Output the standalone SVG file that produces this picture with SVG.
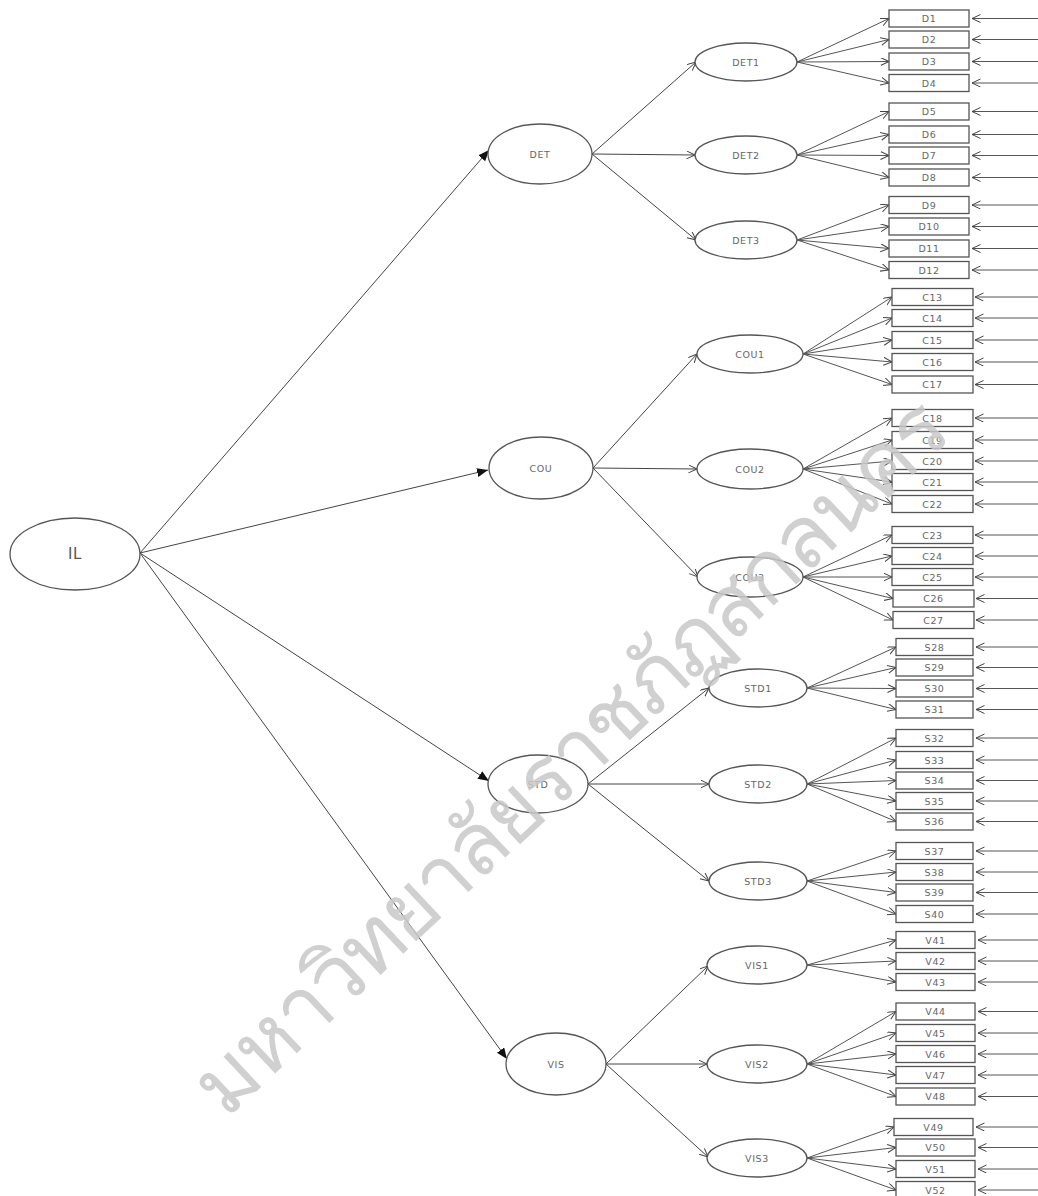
<svg xmlns="http://www.w3.org/2000/svg" width="1038" height="1196" viewBox="0 0 1038 1196">
<style>
.ln{stroke:#444;stroke-width:1;fill:none}
.ia{stroke:#555;stroke-width:1;fill:none}
.node{fill:#fff;stroke:#555;stroke-width:1.3}
.box{fill:#fff;stroke:#555;stroke-width:1.3}
.lbl{font-family:"DejaVu Sans","Liberation Sans",sans-serif;font-size:9.5px;fill:#666;text-anchor:middle;dominant-baseline:central;letter-spacing:0.6px}
.big{font-size:15px;fill:#555}
.wm{font-family:"Noto Sans","DejaVu Sans",sans-serif;font-size:86px;fill:#c8c8c8;fill-opacity:0.85;font-weight:200}
</style>
<defs>
<marker id="fill" markerWidth="12" markerHeight="10" refX="11" refY="4.5" orient="auto" markerUnits="userSpaceOnUse"><path d="M0,0 L11,4.5 L0,9 z" fill="#111"/></marker>
<marker id="open" markerWidth="10" markerHeight="9" refX="8.5" refY="4" orient="auto" markerUnits="userSpaceOnUse"><path d="M0,0 L8.5,4 L0,8" fill="none" stroke="#444" stroke-width="1"/></marker>
</defs>

<g id="connectors">
<line class="ln" x1="140" y1="553" x2="489" y2="150" marker-end="url(#fill)"/>
<line class="ln" x1="140" y1="553" x2="488" y2="470" marker-end="url(#fill)"/>
<line class="ln" x1="140" y1="553" x2="489" y2="781" marker-end="url(#fill)"/>
<line class="ln" x1="140" y1="553" x2="507" y2="1059" marker-end="url(#fill)"/>

<line class="ln" x1="592" y1="154" x2="696" y2="62" marker-end="url(#open)"/>
<line class="ln" x1="592" y1="154" x2="695" y2="155" marker-end="url(#open)"/>
<line class="ln" x1="592" y1="154" x2="696" y2="240" marker-end="url(#open)"/>
<line class="ln" x1="593" y1="468" x2="697" y2="354" marker-end="url(#open)"/>
<line class="ln" x1="593" y1="468" x2="697" y2="469" marker-end="url(#open)"/>
<line class="ln" x1="593" y1="468" x2="698" y2="577" marker-end="url(#open)"/>
<line class="ln" x1="588" y1="784" x2="709" y2="688" marker-end="url(#open)"/>
<line class="ln" x1="588" y1="784" x2="709" y2="784" marker-end="url(#open)"/>
<line class="ln" x1="588" y1="784" x2="709" y2="881" marker-end="url(#open)"/>
<line class="ln" x1="606" y1="1064" x2="708" y2="966" marker-end="url(#open)"/>
<line class="ln" x1="606" y1="1064" x2="707" y2="1064" marker-end="url(#open)"/>
<line class="ln" x1="606" y1="1064" x2="708" y2="1157" marker-end="url(#open)"/>

<g id="item-arrows">
<line class="ia" x1="797" y1="62" x2="889" y2="18.5" marker-end="url(#open)"/>
<line class="ia" x1="797" y1="62" x2="889" y2="39.5" marker-end="url(#open)"/>
<line class="ia" x1="797" y1="62" x2="889" y2="61.5" marker-end="url(#open)"/>
<line class="ia" x1="797" y1="62" x2="889" y2="83" marker-end="url(#open)"/>
<line class="ia" x1="797" y1="155" x2="889" y2="111.5" marker-end="url(#open)"/>
<line class="ia" x1="797" y1="155" x2="889" y2="134.5" marker-end="url(#open)"/>
<line class="ia" x1="797" y1="155" x2="889" y2="155.5" marker-end="url(#open)"/>
<line class="ia" x1="797" y1="155" x2="889" y2="177.5" marker-end="url(#open)"/>
<line class="ia" x1="797" y1="240" x2="889" y2="205" marker-end="url(#open)"/>
<line class="ia" x1="797" y1="240" x2="889" y2="226.5" marker-end="url(#open)"/>
<line class="ia" x1="797" y1="240" x2="889" y2="248.5" marker-end="url(#open)"/>
<line class="ia" x1="797" y1="240" x2="889" y2="270" marker-end="url(#open)"/>

<line class="ia" x1="803" y1="354" x2="892" y2="297" marker-end="url(#open)"/>
<line class="ia" x1="803" y1="354" x2="892" y2="318" marker-end="url(#open)"/>
<line class="ia" x1="803" y1="354" x2="892" y2="340" marker-end="url(#open)"/>
<line class="ia" x1="803" y1="354" x2="892" y2="362" marker-end="url(#open)"/>
<line class="ia" x1="803" y1="354" x2="892" y2="384.5" marker-end="url(#open)"/>
<line class="ia" x1="803" y1="469" x2="892" y2="418" marker-end="url(#open)"/>
<line class="ia" x1="803" y1="469" x2="892" y2="440" marker-end="url(#open)"/>
<line class="ia" x1="803" y1="469" x2="892" y2="461" marker-end="url(#open)"/>
<line class="ia" x1="803" y1="469" x2="892" y2="482" marker-end="url(#open)"/>
<line class="ia" x1="803" y1="469" x2="892" y2="504" marker-end="url(#open)"/>
<line class="ia" x1="803" y1="577" x2="892" y2="535" marker-end="url(#open)"/>
<line class="ia" x1="803" y1="577" x2="892" y2="556" marker-end="url(#open)"/>
<line class="ia" x1="803" y1="577" x2="892" y2="577" marker-end="url(#open)"/>
<line class="ia" x1="803" y1="577" x2="893" y2="598.5" marker-end="url(#open)"/>
<line class="ia" x1="803" y1="577" x2="893" y2="620" marker-end="url(#open)"/>

<line class="ia" x1="807" y1="688" x2="896" y2="647" marker-end="url(#open)"/>
<line class="ia" x1="807" y1="688" x2="896" y2="667.5" marker-end="url(#open)"/>
<line class="ia" x1="807" y1="688" x2="896" y2="688.5" marker-end="url(#open)"/>
<line class="ia" x1="807" y1="688" x2="896" y2="709.5" marker-end="url(#open)"/>
<line class="ia" x1="807" y1="784" x2="896" y2="738" marker-end="url(#open)"/>
<line class="ia" x1="807" y1="784" x2="896" y2="760" marker-end="url(#open)"/>
<line class="ia" x1="807" y1="784" x2="896" y2="780.5" marker-end="url(#open)"/>
<line class="ia" x1="807" y1="784" x2="896" y2="801" marker-end="url(#open)"/>
<line class="ia" x1="807" y1="784" x2="896" y2="821.5" marker-end="url(#open)"/>
<line class="ia" x1="807" y1="881" x2="896" y2="851" marker-end="url(#open)"/>
<line class="ia" x1="807" y1="881" x2="896" y2="872" marker-end="url(#open)"/>
<line class="ia" x1="807" y1="881" x2="896" y2="892.5" marker-end="url(#open)"/>
<line class="ia" x1="807" y1="881" x2="896" y2="914" marker-end="url(#open)"/>

<line class="ia" x1="807" y1="965" x2="896" y2="940" marker-end="url(#open)"/>
<line class="ia" x1="807" y1="965" x2="896" y2="961" marker-end="url(#open)"/>
<line class="ia" x1="807" y1="965" x2="896" y2="982" marker-end="url(#open)"/>
<line class="ia" x1="807" y1="1064" x2="896" y2="1011.5" marker-end="url(#open)"/>
<line class="ia" x1="807" y1="1064" x2="896" y2="1033" marker-end="url(#open)"/>
<line class="ia" x1="807" y1="1064" x2="896" y2="1054" marker-end="url(#open)"/>
<line class="ia" x1="807" y1="1064" x2="896" y2="1075" marker-end="url(#open)"/>
<line class="ia" x1="807" y1="1064" x2="896" y2="1096.5" marker-end="url(#open)"/>
<line class="ia" x1="807" y1="1158" x2="894" y2="1127" marker-end="url(#open)"/>
<line class="ia" x1="807" y1="1158" x2="896" y2="1147.5" marker-end="url(#open)"/>
<line class="ia" x1="807" y1="1158" x2="896" y2="1169" marker-end="url(#open)"/>
<line class="ia" x1="807" y1="1158" x2="896" y2="1190" marker-end="url(#open)"/>
</g>

<g id="error-arrows">
<line class="ia" x1="1038" y1="18.5" x2="972" y2="18.5" marker-end="url(#open)"/>
<line class="ia" x1="1038" y1="39.5" x2="972" y2="39.5" marker-end="url(#open)"/>
<line class="ia" x1="1038" y1="61.5" x2="972" y2="61.5" marker-end="url(#open)"/>
<line class="ia" x1="1038" y1="83" x2="972" y2="83" marker-end="url(#open)"/>
<line class="ia" x1="1038" y1="111.5" x2="972" y2="111.5" marker-end="url(#open)"/>
<line class="ia" x1="1038" y1="134.5" x2="972" y2="134.5" marker-end="url(#open)"/>
<line class="ia" x1="1038" y1="155.5" x2="972" y2="155.5" marker-end="url(#open)"/>
<line class="ia" x1="1038" y1="177.5" x2="972" y2="177.5" marker-end="url(#open)"/>
<line class="ia" x1="1038" y1="205" x2="972" y2="205" marker-end="url(#open)"/>
<line class="ia" x1="1038" y1="226.5" x2="972" y2="226.5" marker-end="url(#open)"/>
<line class="ia" x1="1038" y1="248.5" x2="972" y2="248.5" marker-end="url(#open)"/>
<line class="ia" x1="1038" y1="270" x2="972" y2="270" marker-end="url(#open)"/>
<line class="ia" x1="1038" y1="297" x2="975" y2="297" marker-end="url(#open)"/>
<line class="ia" x1="1038" y1="318" x2="975" y2="318" marker-end="url(#open)"/>
<line class="ia" x1="1038" y1="340" x2="975" y2="340" marker-end="url(#open)"/>
<line class="ia" x1="1038" y1="362" x2="975" y2="362" marker-end="url(#open)"/>
<line class="ia" x1="1038" y1="384.5" x2="975" y2="384.5" marker-end="url(#open)"/>
<line class="ia" x1="1038" y1="418" x2="975" y2="418" marker-end="url(#open)"/>
<line class="ia" x1="1038" y1="440" x2="975" y2="440" marker-end="url(#open)"/>
<line class="ia" x1="1038" y1="461" x2="975" y2="461" marker-end="url(#open)"/>
<line class="ia" x1="1038" y1="482" x2="975" y2="482" marker-end="url(#open)"/>
<line class="ia" x1="1038" y1="504" x2="975" y2="504" marker-end="url(#open)"/>
<line class="ia" x1="1038" y1="535" x2="975" y2="535" marker-end="url(#open)"/>
<line class="ia" x1="1038" y1="556" x2="975" y2="556" marker-end="url(#open)"/>
<line class="ia" x1="1038" y1="577" x2="975" y2="577" marker-end="url(#open)"/>
<line class="ia" x1="1038" y1="598.5" x2="976" y2="598.5" marker-end="url(#open)"/>
<line class="ia" x1="1038" y1="620" x2="976" y2="620" marker-end="url(#open)"/>
<line class="ia" x1="1038" y1="647" x2="976" y2="647" marker-end="url(#open)"/>
<line class="ia" x1="1038" y1="667.5" x2="976" y2="667.5" marker-end="url(#open)"/>
<line class="ia" x1="1038" y1="688.5" x2="976" y2="688.5" marker-end="url(#open)"/>
<line class="ia" x1="1038" y1="709.5" x2="976" y2="709.5" marker-end="url(#open)"/>
<line class="ia" x1="1038" y1="738" x2="976" y2="738" marker-end="url(#open)"/>
<line class="ia" x1="1038" y1="760" x2="976" y2="760" marker-end="url(#open)"/>
<line class="ia" x1="1038" y1="780.5" x2="976" y2="780.5" marker-end="url(#open)"/>
<line class="ia" x1="1038" y1="801" x2="976" y2="801" marker-end="url(#open)"/>
<line class="ia" x1="1038" y1="821.5" x2="976" y2="821.5" marker-end="url(#open)"/>
<line class="ia" x1="1038" y1="851" x2="976" y2="851" marker-end="url(#open)"/>
<line class="ia" x1="1038" y1="872" x2="976" y2="872" marker-end="url(#open)"/>
<line class="ia" x1="1038" y1="892.5" x2="976" y2="892.5" marker-end="url(#open)"/>
<line class="ia" x1="1038" y1="914" x2="976" y2="914" marker-end="url(#open)"/>
<line class="ia" x1="1038" y1="940" x2="978" y2="940" marker-end="url(#open)"/>
<line class="ia" x1="1038" y1="961" x2="978" y2="961" marker-end="url(#open)"/>
<line class="ia" x1="1038" y1="982" x2="978" y2="982" marker-end="url(#open)"/>
<line class="ia" x1="1038" y1="1011.5" x2="978" y2="1011.5" marker-end="url(#open)"/>
<line class="ia" x1="1038" y1="1033" x2="978" y2="1033" marker-end="url(#open)"/>
<line class="ia" x1="1038" y1="1054" x2="978" y2="1054" marker-end="url(#open)"/>
<line class="ia" x1="1038" y1="1075" x2="978" y2="1075" marker-end="url(#open)"/>
<line class="ia" x1="1038" y1="1096.5" x2="978" y2="1096.5" marker-end="url(#open)"/>
<line class="ia" x1="1038" y1="1127" x2="976" y2="1127" marker-end="url(#open)"/>
<line class="ia" x1="1038" y1="1147.5" x2="978" y2="1147.5" marker-end="url(#open)"/>
<line class="ia" x1="1038" y1="1169" x2="978" y2="1169" marker-end="url(#open)"/>
<line class="ia" x1="1038" y1="1190" x2="978" y2="1190" marker-end="url(#open)"/>
</g>
</g>

<g id="IL"><ellipse class="node" cx="75" cy="554" rx="65" ry="36"/><text class="lbl big" x="75" y="554">IL</text></g>

<g id="DET"><ellipse class="node" cx="540" cy="154" rx="52" ry="30"/><text class="lbl" x="540" y="154">DET</text></g>
<g id="COU"><ellipse class="node" cx="541" cy="468" rx="52" ry="31"/><text class="lbl" x="541" y="468">COU</text></g>
<g id="STD"><ellipse class="node" cx="538" cy="784" rx="50" ry="29"/><text class="lbl" x="538" y="784">STD</text></g>
<g id="VIS"><ellipse class="node" cx="556" cy="1064" rx="50" ry="31"/><text class="lbl" x="556" y="1064">VIS</text></g>

<g id="DET1"><ellipse class="node" cx="746" cy="62" rx="51" ry="19"/><text class="lbl" x="746" y="62">DET1</text></g>
<g id="DET2"><ellipse class="node" cx="746" cy="155" rx="51" ry="19"/><text class="lbl" x="746" y="155">DET2</text></g>
<g id="DET3"><ellipse class="node" cx="746" cy="240" rx="51" ry="19"/><text class="lbl" x="746" y="240">DET3</text></g>
<g id="COU1"><ellipse class="node" cx="750" cy="354" rx="53" ry="19"/><text class="lbl" x="750" y="354">COU1</text></g>
<g id="COU2"><ellipse class="node" cx="750" cy="469" rx="53" ry="20"/><text class="lbl" x="750" y="469">COU2</text></g>
<g id="COU3"><ellipse class="node" cx="750" cy="577" rx="53" ry="20"/><text class="lbl" x="750" y="577">COU3</text></g>
<g id="STD1"><ellipse class="node" cx="758" cy="688" rx="49" ry="19"/><text class="lbl" x="758" y="688">STD1</text></g>
<g id="STD2"><ellipse class="node" cx="758" cy="784" rx="49" ry="19"/><text class="lbl" x="758" y="784">STD2</text></g>
<g id="STD3"><ellipse class="node" cx="758" cy="881" rx="49" ry="19"/><text class="lbl" x="758" y="881">STD3</text></g>
<g id="VIS1"><ellipse class="node" cx="757" cy="965" rx="50" ry="19"/><text class="lbl" x="757" y="965">VIS1</text></g>
<g id="VIS2"><ellipse class="node" cx="757" cy="1064" rx="50" ry="19"/><text class="lbl" x="757" y="1064">VIS2</text></g>
<g id="VIS3"><ellipse class="node" cx="757" cy="1158" rx="50" ry="19"/><text class="lbl" x="757" y="1158">VIS3</text></g>

<g id="D1"><rect class="box" x="889" y="10" width="80" height="17"/><text class="lbl" x="929" y="18.5">D1</text></g>
<g id="D2"><rect class="box" x="889" y="31" width="80" height="17"/><text class="lbl" x="929" y="39.5">D2</text></g>
<g id="D3"><rect class="box" x="889" y="53" width="80" height="17"/><text class="lbl" x="929" y="61.5">D3</text></g>
<g id="D4"><rect class="box" x="889" y="74.5" width="80" height="17"/><text class="lbl" x="929" y="83">D4</text></g>
<g id="D5"><rect class="box" x="889" y="103" width="80" height="17"/><text class="lbl" x="929" y="111.5">D5</text></g>
<g id="D6"><rect class="box" x="889" y="126" width="80" height="17"/><text class="lbl" x="929" y="134.5">D6</text></g>
<g id="D7"><rect class="box" x="889" y="147" width="80" height="17"/><text class="lbl" x="929" y="155.5">D7</text></g>
<g id="D8"><rect class="box" x="889" y="169" width="80" height="17"/><text class="lbl" x="929" y="177.5">D8</text></g>
<g id="D9"><rect class="box" x="889" y="196.5" width="80" height="17"/><text class="lbl" x="929" y="205">D9</text></g>
<g id="D10"><rect class="box" x="889" y="218" width="80" height="17"/><text class="lbl" x="929" y="226.5">D10</text></g>
<g id="D11"><rect class="box" x="889" y="240" width="80" height="17"/><text class="lbl" x="929" y="248.5">D11</text></g>
<g id="D12"><rect class="box" x="889" y="261.5" width="80" height="17"/><text class="lbl" x="929" y="270">D12</text></g>

<g id="C13"><rect class="box" x="892" y="288.5" width="81" height="17"/><text class="lbl" x="932.5" y="297">C13</text></g>
<g id="C14"><rect class="box" x="892" y="309.5" width="81" height="17"/><text class="lbl" x="932.5" y="318">C14</text></g>
<g id="C15"><rect class="box" x="892" y="331.5" width="81" height="17"/><text class="lbl" x="932.5" y="340">C15</text></g>
<g id="C16"><rect class="box" x="892" y="353.5" width="81" height="17"/><text class="lbl" x="932.5" y="362">C16</text></g>
<g id="C17"><rect class="box" x="892" y="376" width="81" height="17"/><text class="lbl" x="932.5" y="384.5">C17</text></g>
<g id="C18"><rect class="box" x="892" y="409.5" width="81" height="17"/><text class="lbl" x="932.5" y="418">C18</text></g>
<g id="C19"><rect class="box" x="892" y="431.5" width="81" height="17"/><text class="lbl" x="932.5" y="440">C19</text></g>
<g id="C20"><rect class="box" x="892" y="452.5" width="81" height="17"/><text class="lbl" x="932.5" y="461">C20</text></g>
<g id="C21"><rect class="box" x="892" y="473.5" width="81" height="17"/><text class="lbl" x="932.5" y="482">C21</text></g>
<g id="C22"><rect class="box" x="892" y="495.5" width="81" height="17"/><text class="lbl" x="932.5" y="504">C22</text></g>
<g id="C23"><rect class="box" x="892" y="526.5" width="81" height="17"/><text class="lbl" x="932.5" y="535">C23</text></g>
<g id="C24"><rect class="box" x="892" y="547.5" width="81" height="17"/><text class="lbl" x="932.5" y="556">C24</text></g>
<g id="C25"><rect class="box" x="892" y="568.5" width="81" height="17"/><text class="lbl" x="932.5" y="577">C25</text></g>
<g id="C26"><rect class="box" x="893" y="590" width="81" height="17"/><text class="lbl" x="933.5" y="598.5">C26</text></g>
<g id="C27"><rect class="box" x="893" y="611.5" width="81" height="17"/><text class="lbl" x="933.5" y="620">C27</text></g>

<g id="S28"><rect class="box" x="896" y="638.5" width="77" height="17"/><text class="lbl" x="934.5" y="647">S28</text></g>
<g id="S29"><rect class="box" x="896" y="659" width="77" height="17"/><text class="lbl" x="934.5" y="667.5">S29</text></g>
<g id="S30"><rect class="box" x="896" y="680" width="77" height="17"/><text class="lbl" x="934.5" y="688.5">S30</text></g>
<g id="S31"><rect class="box" x="896" y="701" width="77" height="17"/><text class="lbl" x="934.5" y="709.5">S31</text></g>
<g id="S32"><rect class="box" x="896" y="729.5" width="77" height="17"/><text class="lbl" x="934.5" y="738">S32</text></g>
<g id="S33"><rect class="box" x="896" y="751.5" width="77" height="17"/><text class="lbl" x="934.5" y="760">S33</text></g>
<g id="S34"><rect class="box" x="896" y="772" width="77" height="17"/><text class="lbl" x="934.5" y="780.5">S34</text></g>
<g id="S35"><rect class="box" x="896" y="792.5" width="77" height="17"/><text class="lbl" x="934.5" y="801">S35</text></g>
<g id="S36"><rect class="box" x="896" y="813" width="77" height="17"/><text class="lbl" x="934.5" y="821.5">S36</text></g>
<g id="S37"><rect class="box" x="896" y="842.5" width="77" height="17"/><text class="lbl" x="934.5" y="851">S37</text></g>
<g id="S38"><rect class="box" x="896" y="863.5" width="77" height="17"/><text class="lbl" x="934.5" y="872">S38</text></g>
<g id="S39"><rect class="box" x="896" y="884" width="77" height="17"/><text class="lbl" x="934.5" y="892.5">S39</text></g>
<g id="S40"><rect class="box" x="896" y="905.5" width="77" height="17"/><text class="lbl" x="934.5" y="914">S40</text></g>

<g id="V41"><rect class="box" x="896" y="931.5" width="79" height="17"/><text class="lbl" x="935.5" y="940">V41</text></g>
<g id="V42"><rect class="box" x="896" y="952.5" width="79" height="17"/><text class="lbl" x="935.5" y="961">V42</text></g>
<g id="V43"><rect class="box" x="896" y="973.5" width="79" height="17"/><text class="lbl" x="935.5" y="982">V43</text></g>
<g id="V44"><rect class="box" x="896" y="1003" width="79" height="17"/><text class="lbl" x="935.5" y="1011.5">V44</text></g>
<g id="V45"><rect class="box" x="896" y="1024.5" width="79" height="17"/><text class="lbl" x="935.5" y="1033">V45</text></g>
<g id="V46"><rect class="box" x="896" y="1045.5" width="79" height="17"/><text class="lbl" x="935.5" y="1054">V46</text></g>
<g id="V47"><rect class="box" x="896" y="1066.5" width="79" height="17"/><text class="lbl" x="935.5" y="1075">V47</text></g>
<g id="V48"><rect class="box" x="896" y="1088" width="79" height="17"/><text class="lbl" x="935.5" y="1096.5">V48</text></g>
<g id="V49"><rect class="box" x="894" y="1118.5" width="79" height="17"/><text class="lbl" x="933.5" y="1127">V49</text></g>
<g id="V50"><rect class="box" x="896" y="1139" width="79" height="17"/><text class="lbl" x="935.5" y="1147.5">V50</text></g>
<g id="V51"><rect class="box" x="896" y="1160.5" width="79" height="17"/><text class="lbl" x="935.5" y="1169">V51</text></g>
<g id="V52"><rect class="box" x="896" y="1181.5" width="79" height="17"/><text class="lbl" x="935.5" y="1190">V52</text></g>

<g id="watermark"><text class="wm" x="0" y="0" transform="translate(226,1120) rotate(-43.2)" textLength="1000" lengthAdjust="spacing">มหาวิทยาลัยราชภัฏสกลนคร</text></g>
</svg>
